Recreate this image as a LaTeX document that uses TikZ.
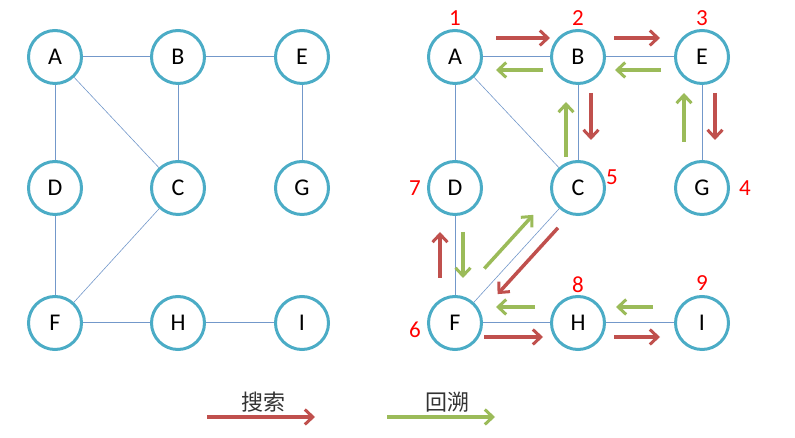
\documentclass[tikz,border=0pt]{standalone}
\usepackage{fontspec}
\setmainfont{Carlito}
\newfontfamily\cjk{Noto Sans CJK SC}
\usetikzlibrary{arrows.meta,calc,positioning}
\definecolor{cianborde}{RGB}{75,172,198}
\definecolor{azularista}{RGB}{115,152,202}
\definecolor{rojoida}{RGB}{192,80,77}
\definecolor{verdevuelta}{RGB}{155,187,89}
\tikzset{
  vertice/.style={
    circle,
    draw=cianborde,
    line width=3pt,
    fill=white,
    minimum size=53pt,
    inner sep=0pt,
    font=\fontsize{24}{28}\selectfont
  },
  arista/.style={
    draw=azularista,
    line width=1pt
  },
  diagonal/.style={
    draw=azularista,
    line width=.6pt
  },
  orden/.style={
    text=red,
    inner sep=0pt,
    font=\fontsize{23}{26}\selectfont
  },
  leyenda/.style={
    inner sep=0pt,
    text=black!80,
    font=\cjk\fontsize{22}{25}\selectfont
  },
  ida/.style={
    -{Straight Barb[length=8pt,width=15pt,line width=3pt]},
    line width=3.5pt,
    rojoida
  },
  vuelta/.style={
    -{Straight Barb[length=8pt,width=15pt,line width=3pt]},
    line width=3.5pt,
    verdevuelta
  }
}
\begin{document}
\begin{tikzpicture}[x=1pt,y=1pt,on grid]
\useasboundingbox (0,0) rectangle (795,438);
% grafo original
\node[vertice] (A1) at (55,381) {A};
\node[vertice,right=123pt of A1] (B1) {B};
\node[vertice,right=124pt of B1] (E1) {E};
\node[vertice,below=131pt of A1] (D1) {D};
\node[vertice,below=131pt of B1] (C1) {C};
\node[vertice,below=131pt of E1] (G1) {G};
\node[vertice,below=135pt of D1] (F1) {F};
\node[vertice,below=135pt of C1] (H1) {H};
\node[vertice,below=135pt of G1] (I1) {I};
\draw[arista] (A1) -- (B1);
\draw[arista] (B1) -- (E1);
\draw[arista] (A1) -- (D1);
\draw[arista] (B1) -- (C1);
\draw[arista] (E1) -- (G1);
\draw[arista] (D1) -- (F1);
\draw[arista] (F1) -- (H1);
\draw[arista] (H1) -- (I1);
\draw[diagonal] (A1) -- (C1);
\draw[diagonal] (C1) -- (F1);
% recorrido en profundidad
\node[vertice] (A2) at (455,381) {A};
\node[vertice,right=123pt of A2] (B2) {B};
\node[vertice,right=124pt of B2] (E2) {E};
\node[vertice,below=131pt of A2] (D2) {D};
\node[vertice,below=131pt of B2] (C2) {C};
\node[vertice,below=131pt of E2] (G2) {G};
\node[vertice,below=135pt of D2] (F2) {F};
\node[vertice,below=135pt of C2] (H2) {H};
\node[vertice,below=135pt of G2] (I2) {I};
\draw[arista] (A2) -- (B2);
\draw[arista] (B2) -- (E2);
\draw[arista] (A2) -- (D2);
\draw[arista] (B2) -- (C2);
\draw[arista] (E2) -- (G2);
\draw[arista] (D2) -- (F2);
\draw[arista] (F2) -- (H2);
\draw[arista] (H2) -- (I2);
\draw[diagonal] (A2) -- (C2);
\draw[diagonal] (C2) -- (F2);
\node[orden,above=39pt of A2] (n1) {1};
\node[orden,above=39pt of B2] (n2) {2};
\node[orden,above=39pt of E2] (n3) {3};
\node[orden,right=43pt of G2] (n4) {4};
\node[orden,above right=11pt and 34pt of C2] (n5) {5};
\node[orden,below left=7pt and 40pt of F2] (n6) {6};
\node[orden,left=40pt of D2] (n7) {7};
\node[orden,above=38pt of H2] (n8) {8};
\node[orden,above=40pt of I2] (n9) {9};
\draw[ida,shorten <=41pt,shorten >=28pt] ($(A2)!19pt!90:(B2)$) -- ($(B2)!19pt!-90:(A2)$);
\draw[vuelta,shorten <=35pt,shorten >=41pt] ($(B2)!13pt!90:(A2)$) -- ($(A2)!13pt!-90:(B2)$);
\draw[ida,shorten <=36pt,shorten >=42pt] ($(B2)!19pt!90:(E2)$) -- ($(E2)!19pt!-90:(B2)$);
\draw[vuelta,shorten <=41pt,shorten >=37pt] ($(E2)!13pt!90:(B2)$) -- ($(B2)!13pt!-90:(E2)$);
\draw[ida,shorten <=36pt,shorten >=48pt] ($(B2)!13pt!90:(C2)$) -- ($(C2)!13pt!-90:(B2)$);
\draw[vuelta,shorten <=31pt,shorten >=45pt] ($(C2)!12pt!90:(B2)$) -- ($(B2)!12pt!-90:(C2)$);
\draw[ida,shorten <=36pt,shorten >=48pt] ($(E2)!13pt!90:(G2)$) -- ($(G2)!13pt!-90:(E2)$);
\draw[vuelta,shorten <=46pt,shorten >=36pt] ($(G2)!18pt!90:(E2)$) -- ($(E2)!18pt!-90:(G2)$);
\draw[ida,shorten <=45pt,shorten >=44pt] ($(F2)!15pt!90:(D2)$) -- ($(D2)!15pt!-90:(F2)$);
\draw[vuelta,shorten <=44pt,shorten >=45pt] ($(D2)!8pt!90:(F2)$) -- ($(F2)!8pt!-90:(D2)$);
\draw[vuelta,shorten <=60pt,shorten >=50pt] ($(F2)!15pt!90:(C2)$) -- ($(C2)!15pt!-90:(F2)$);
\draw[ida,shorten <=43pt,shorten >=50pt] ($(C2)!12pt!90:(F2)$) -- ($(F2)!12pt!-90:(C2)$);
\draw[vuelta,shorten <=43pt,shorten >=41pt] ($(H2)!16pt!-90:(F2)$) -- ($(F2)!16pt!90:(H2)$);
\draw[ida,shorten <=29pt,shorten >=35pt] ($(F2)!14pt!-90:(H2)$) -- ($(H2)!14pt!90:(F2)$);
\draw[vuelta,shorten <=49pt,shorten >=38pt] ($(I2)!16pt!-90:(H2)$) -- ($(H2)!16pt!90:(I2)$);
\draw[ida,shorten <=36pt,shorten >=42pt] ($(H2)!14pt!-90:(I2)$) -- ($(I2)!14pt!90:(H2)$);
% leyenda
\coordinate (ri) at (207,21);
\coordinate (rf) at (315,21);
\coordinate (vi) at (387,21);
\coordinate (vf) at (495,21);
\draw[ida] (ri) -- (rf);
\draw[vuelta] (vi) -- (vf);
\node[leyenda] (busca) at (263,36) {搜索};
\node[leyenda] (regresa) at (447,36) {回溯};
\end{tikzpicture}
\end{document}
